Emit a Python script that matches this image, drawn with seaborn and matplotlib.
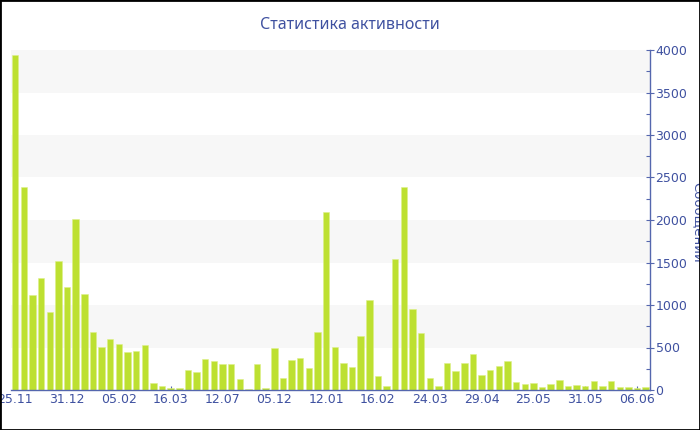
import matplotlib
matplotlib.use("Agg")
import matplotlib.pyplot as plt
import seaborn as sns
import pandas as pd
from matplotlib.ticker import MultipleLocator

values = [3945, 2385, 1118, 1314, 922, 1518, 1208, 2012, 1130, 678,
          502, 600, 541, 447, 459, 525, 82, 43, 24, 24,
          231, 216, 361, 337, 310, 306, 129, 10, 310, 20,
          498, 137, 349, 373, 263, 682, 2090, 502, 322, 271,
          635, 1059, 165, 51, 1545, 2385, 949, 671, 141, 43,
          322, 224, 318, 420, 173, 231, 286, 345, 98, 67,
          78, 31, 67, 114, 47, 55, 47, 110, 47, 110,
          39, 35, 20, 31]
tick_labels = ["25.11", "31.12", "05.02", "16.03", "12.07", "05.12", "12.01",
               "16.02", "24.03", "29.04", "25.05", "31.05", "06.06"]
tick_every = 6
title = "Статистика активности"
ylabel = "Сообщений"

bar_color = "#BDE031"
text_color = "#3F51A0"
axis_color = "#5567AE"
band_color = "#F7F7F7"

df = pd.DataFrame({"idx": list(range(len(values))), "value": values})

sns.set_theme(style="white")
plt.rcParams["font.family"] = ["DejaVu Sans"]

fig = plt.figure(figsize=(7, 4.3), dpi=100)
ax = fig.add_axes([10.9 / 700, 40 / 430, (650 - 10.9) / 700, 340 / 430])

for lo in (500, 1500, 2500, 3500):
    ax.axhspan(lo, lo + 500, color=band_color, zorder=0, lw=0)

sns.barplot(data=df, x="idx", y="value", color=bar_color, saturation=1,
            width=0.74, edgecolor="#DDF08A", linewidth=0.4, ax=ax, zorder=2)

ax.set_xlim(-0.5, len(values) - 0.5)
ax.set_ylim(0, 4000)
ax.set_xticks(range(0, len(values), tick_every))
ax.set_xticklabels(tick_labels)
ax.set_xlabel("")
ax.set_ylabel("")

ax.yaxis.tick_right()
ax.yaxis.set_major_locator(MultipleLocator(500))
ax.yaxis.set_minor_locator(MultipleLocator(250))
ax.tick_params(axis="y", which="major", direction="inout", length=6, width=0.8,
               color=axis_color, labelcolor=text_color, labelsize=9, pad=1,
               right=True, left=False)
ax.tick_params(axis="y", which="minor", direction="in", length=3, width=0.8,
               color=axis_color, right=True, left=False)
ax.tick_params(axis="x", which="major", direction="in", length=3, width=0.8,
               color=axis_color, labelcolor=text_color, labelsize=9, pad=2,
               bottom=True)

for s in ("left", "top"):
    ax.spines[s].set_visible(False)
for s in ("right", "bottom"):
    ax.spines[s].set_color(axis_color)
    ax.spines[s].set_linewidth(1.0)

ax.set_facecolor("white")
fig.text(0.5, 1 - 25 / 430, title, ha="center", va="center",
         color=text_color, fontsize=11.5, family=["Noto Sans", "DejaVu Sans"])
fig.text(697 / 700, 1 - 222 / 430, ylabel, ha="center", va="center",
         rotation=270, color=text_color, fontsize=9.5)

border = plt.Rectangle((0, 0), 1, 1, transform=fig.transFigure, fill=False,
                       edgecolor="black", linewidth=2, zorder=10)
fig.patches.append(border)

fig.savefig("out.png", dpi=100)
